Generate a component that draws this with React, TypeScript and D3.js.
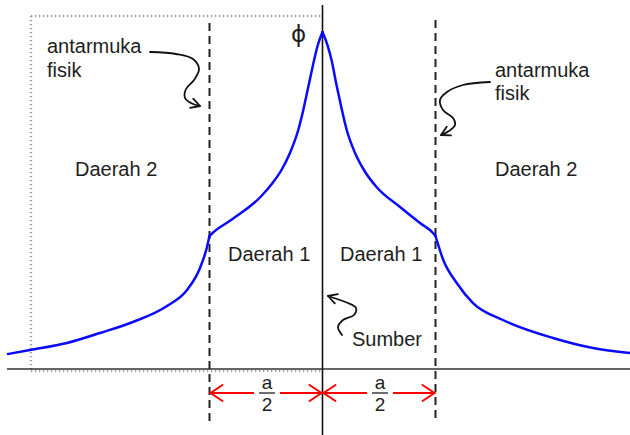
import React from "react";
import * as d3 from "d3";

// Neutron flux profile about a plane source; x in units of a/2, flux relative to the peak.
const region2LeftX = [-2.783, -2.588, -2.261, -1.969, -1.677, -1.376, -1.199, -1.084, -1.022, -1.0];
const region2LeftFlux = [0.0445, 0.0564, 0.0772, 0.1068, 0.1395, 0.1869, 0.2344, 0.2997, 0.362, 0.3947];
const region1LeftX = [-1.0, -0.973, -0.796, -0.549, -0.442, -0.363, -0.288, -0.212, -0.168, -0.124, -0.08, -0.044, 0];
const region1LeftFlux = [0.3947, 0.4036, 0.4451, 0.5104, 0.5519, 0.5905, 0.6409, 0.7122, 0.7715, 0.8398, 0.908, 0.9585, 1.0];
const region1RightX = [0, 0.044, 0.08, 0.124, 0.168, 0.212, 0.288, 0.372, 0.478, 0.686, 0.863, 0.978, 1.0];
const region1RightFlux = [1.0, 0.9614, 0.9169, 0.8427, 0.7745, 0.7122, 0.6409, 0.5875, 0.5401, 0.4807, 0.4332, 0.4036, 0.3947];
const region2RightX = [1.0, 1.069, 1.188, 1.332, 1.597, 2.04, 2.394, 2.721];
const region2RightFlux = [0.3947, 0.3234, 0.2552, 0.1958, 0.1454, 0.092, 0.0623, 0.0475];

const interfaces = [-1, 1];
const regionLabels = ["Daerah 2", "Daerah 1", "Daerah 1", "Daerah 2"];
const interfaceLabel = ["antarmuka", "fisik"];
const sourceLabel = "Sumber";
const fluxSymbol = "\u03d5";

const W = 630;
const H = 435;
const FONT = "Arial, 'Liberation Sans', sans-serif";
const INK = "#1e1e1e";

const x = d3.scaleLinear().domain([-1, 1]).range([209.5, 435.5]);
const y = d3.scaleLinear().domain([0, 1]).range([369, 32]);

const fluxLine = d3
  .line<[number, number]>()
  .x((d) => x(d[0]))
  .y((d) => y(d[1]))
  .curve(d3.curveMonotoneX);

const zip = (xs: number[], fs: number[]) => xs.map((v, i) => [v, fs[i]] as [number, number]);

const segments = [
  zip(region2LeftX, region2LeftFlux),
  zip(region1LeftX, region1LeftFlux),
  zip(region1RightX, region1RightFlux),
  zip(region2RightX, region2RightFlux),
];

const handLine = d3
  .line<[number, number]>()
  .curve(d3.curveCatmullRom.alpha(0.5));

// Curly pointer with an open arrowhead at its last point
function CurlyArrow({ pts }: { pts: [number, number][] }) {
  const n = pts.length;
  const [tx, ty] = pts[n - 1];
  const [px, py] = pts[n - 2];
  const ang = Math.atan2(ty - py, tx - px);
  const len = 10;
  const spread = 0.5;
  const a1: [number, number] = [tx - len * Math.cos(ang - spread), ty - len * Math.sin(ang - spread)];
  const a2: [number, number] = [tx - len * Math.cos(ang + spread), ty - len * Math.sin(ang + spread)];
  return (
    <g fill="none" stroke="#111" strokeWidth={1.8} strokeLinecap="round" strokeLinejoin="round">
      <path d={handLine(pts) || ""} />
      <path d={`M${a1[0]},${a1[1]}L${tx},${ty}L${a2[0]},${a2[1]}`} />
    </g>
  );
}

// Red double arrow spanning half a slab, labelled a/2
function HalfWidth({ from, to }: { from: number; to: number }) {
  const x0 = x(from);
  const x1 = x(to);
  const yy = 393;
  const mid = (x0 + x1) / 2 + 1;
  const h = 12;
  const v = 8;
  return (
    <g>
      <g stroke="#ff0000" strokeWidth={2} fill="none" strokeLinecap="round">
        <line x1={x0 + 1} y1={yy} x2={x1 - 1} y2={yy} />
        <path d={`M${x0 + 1 + h},${yy - v}L${x0 + 1},${yy}L${x0 + 1 + h},${yy + v}`} />
        <path d={`M${x1 - 1 - h},${yy - v}L${x1 - 1},${yy}L${x1 - 1 - h},${yy + v}`} />
      </g>
      <rect x={mid - 13} y={372} width={26} height={42} fill="#fff" />
      <text x={mid} y={389} textAnchor="middle" fontFamily={FONT} fontSize={19} fill={INK}>a</text>
      <line x1={mid - 8} x2={mid + 8} y1={yy} y2={yy} stroke={INK} strokeWidth={1.3} />
      <text x={mid} y={411} textAnchor="middle" fontFamily={FONT} fontSize={19} fill={INK}>2</text>
    </g>
  );
}

export default function App() {
  const boxLeft = x(-2.58);
  const boxRight = x(0);
  const dotted = { stroke: "#a0a0a0", strokeWidth: 2.5, strokeDasharray: "1.3 2.7", fill: "none" };

  return (
    <svg
      width={W}
      height={H}
      viewBox={`0 0 ${W} ${H}`}
      style={{ position: "absolute", left: 0, top: 0, background: "#fff" }}
    >
      <rect x={0} y={0} width={W} height={H} fill="#fff" />

      {/* dotted frame of the left half */}
      <line x1={boxLeft} x2={boxRight} y1={16} y2={16} {...dotted} />
      <line x1={boxLeft} x2={boxLeft} y1={16} y2={y(0) + 2} {...dotted} />
      <line x1={boxLeft} x2={boxRight} y1={y(0) + 2} y2={y(0) + 2} {...dotted} />

      {/* distance axis and source plane */}
      <line x1={7} x2={W} y1={y(0)} y2={y(0)} stroke="#333" strokeWidth={1.6} />
      <line x1={x(0)} x2={x(0)} y1={5} y2={H} stroke="#111" strokeWidth={1.6} />

      {/* physical interfaces */}
      {interfaces.map((v, i) => (
        <line
          key={v}
          x1={x(v)}
          x2={x(v)}
          y1={i === 0 ? 23 : 20}
          y2={i === 0 ? 425 : 423}
          stroke="#222"
          strokeWidth={2}
          strokeDasharray="8 5"
        />
      ))}

      {/* flux */}
      <g fill="none" stroke="#0a0aff" strokeWidth={2.5} strokeLinecap="round" strokeLinejoin="round">
        {segments.map((s, i) => (
          <path key={i} d={fluxLine(s) || ""} />
        ))}
      </g>

      {/* labels */}
      <g fontFamily={FONT} fontSize={20} fill={INK}>
        <text x={291} y={42} fontFamily="'DejaVu Sans', sans-serif" fontSize={23}>{fluxSymbol}</text>
        <text x={47} y={53}>{interfaceLabel[0]}</text>
        <text x={47} y={77}>{interfaceLabel[1]}</text>
        <text x={495} y={77}>{interfaceLabel[0]}</text>
        <text x={495} y={100}>{interfaceLabel[1]}</text>
        <text x={75} y={176}>{regionLabels[0]}</text>
        <text x={228} y={261}>{regionLabels[1]}</text>
        <text x={340} y={261}>{regionLabels[2]}</text>
        <text x={495} y={176}>{regionLabels[3]}</text>
        <text x={352} y={346}>{sourceLabel}</text>
      </g>

      {/* pointers */}
      <CurlyArrow
        pts={[
          [150, 52],
          [176, 54],
          [193, 59],
          [199, 69],
          [194, 80],
          [186, 89],
          [185, 98],
          [191, 103],
          [200, 106],
        ]}
      />
      <CurlyArrow
        pts={[
          [490, 82],
          [463, 85],
          [447, 92],
          [440, 100],
          [443, 110],
          [453, 118],
          [455, 125],
          [449, 131],
          [441, 135],
        ]}
      />
      <CurlyArrow
        pts={[
          [342, 335],
          [338, 327],
          [343, 320],
          [354, 315],
          [356, 308],
          [348, 303],
          [337, 299],
          [328, 296],
        ]}
      />

      {/* half-thickness markers */}
      <HalfWidth from={-1} to={0} />
      <HalfWidth from={0} to={1} />
    </svg>
  );
}
